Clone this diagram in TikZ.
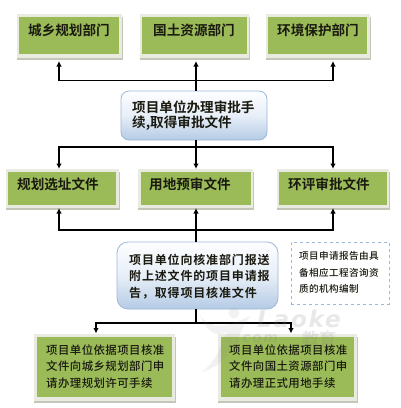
\documentclass[tikz,border=0pt]{standalone}
\usepackage{fontspec}
\setmainfont{Noto Sans CJK SC}
\newfontfamily\cjkb[LetterSpace=0]{Noto Sans CJK SC Bold}
\newfontfamily\cjkbs[LetterSpace=7]{Noto Sans CJK SC Bold}
\newfontfamily\cjkm[LetterSpace=4]{Noto Sans CJK SC Medium}
\newfontfamily\wmark{DejaVu Sans Bold Oblique}
\usetikzlibrary{arrows.meta,shadows}
\definecolor{boxgreen}{HTML}{9BBB59}
\definecolor{boxrim}{HTML}{E9EBE0}
\definecolor{rimshade}{HTML}{C4C6B8}
\definecolor{bluetop}{HTML}{FDFEFF}
\definecolor{bluebot}{HTML}{B5CBE6}
\definecolor{blueline}{HTML}{9DB8D8}
\definecolor{txt}{HTML}{1A1A10}
\tikzset{
  x=1pt,y=-1pt,
  rim/.style={fill=boxrim,draw=none},
  rimb/.style={fill=rimshade,draw=none},
  green/.style={fill=boxgreen,draw=none},
  conn/.style={draw=black,line width=1.1pt},
  tip/.style={conn,-{Latex[length=5.5pt,width=5.5pt]}},
  lab/.style={anchor=west,inner sep=0,text=txt},
  pillbox/.style={rounded corners=8pt,draw=blueline,line width=0.8pt,top color=bluetop,bottom color=bluebot,middle color=bluetop!70!bluebot},
}
\newcommand{\gbox}[9]{%
  \path[rimb] (#2,#3+3) rectangle (#4,#5);
  \path[rim] (#2,#3) rectangle (#4-1,#5-2);
  \path[green] (#6,#7) rectangle (#8,#9);
  \coordinate (#1) at (#6/2+#8/2,#7/2+#9/2);
}
\begin{document}
\begin{tikzpicture}
\useasboundingbox (0,0) rectangle (400,408);
\fill[white] (0,0) rectangle (400,408);
% top row
\gbox{a1}{17}{14}{123}{60}{19}{17}{119}{54}
\gbox{a2}{140}{14}{250}{60}{142}{17}{247}{54}
\gbox{a3}{266}{14}{371}{60}{268}{17}{367}{54}
% second row
\gbox{b1}{6}{169}{120}{210}{8}{172}{116}{205}
\gbox{b2}{138}{169}{254}{210}{141}{172}{251}{205}
\gbox{b3}{277}{169}{390}{210}{279}{172}{387}{205}
% bottom row
\gbox{d1}{34}{334}{176}{403}{37}{337}{172}{397}
\gbox{d2}{218}{334}{358}{403}{221}{337}{354}{397}
% centre boxes
\node[pillbox,minimum width=146pt,minimum height=49pt,inner sep=0] (c1) at (194,115.5) {};
\node[pillbox,minimum width=161pt,minimum height=67pt,inner sep=0,rounded corners=11pt] (c2) at (197.5,275.5) {};
% dashed note
\node[draw=blueline,dashed,line width=1pt,minimum width=98pt,minimum height=62pt,inner sep=0] (note) at (340,273) {};
% connectors
\coordinate (h1) at (196,80.5);
\coordinate (h2) at (196,147);
\coordinate (h3) at (196,230);
\coordinate (h4) at (196,323);
\draw[conn] (196,91) -- (h1);
\draw[tip] (h1) -- (59,80.5) -- (59,61);
\draw[tip] (h1) -- (196,61);
\draw[tip] (h1) -- (333,80.5) -- (333,61);
\draw[conn] (196,140) -- (h2);
\draw[tip] (h2) -- (59,147) -- (59,169);
\draw[tip] (h2) -- (196,169);
\draw[tip] (h2) -- (333,147) -- (333,169);
\draw[conn] (196,242) -- (h3);
\draw[tip] (h3) -- (59,230) -- (59,208);
\draw[tip] (h3) -- (196,208);
\draw[tip] (h3) -- (333,230) -- (333,208);
\draw[conn] (196,309) -- (h4);
\draw[tip] (h4) -- (96,323) -- (96,333.5);
\draw[tip] (h4) -- (291,323) -- (291,333.5);
% labels
\tikzset{every node/.append style={lab}}
\node[font=\cjkb\fontsize{13.6}{14}\selectfont] (t1) at (28,30) {城乡规划部门};
\node[font=\cjkb\fontsize{13.6}{14}\selectfont] (t2) at (153,30) {国土资源部门};
\node[font=\cjkb\fontsize{13.6}{14}\selectfont] (t3) at (277,30) {环境保护部门};
\node[font=\cjkb\fontsize{13.6}{14}\selectfont] (t4) at (17,184.5) {规划选址文件};
\node[font=\cjkb\fontsize{13.6}{14}\selectfont] (t5) at (149,184.5) {用地预审文件};
\node[font=\cjkb\fontsize{13.6}{14}\selectfont] (t6) at (288,184.5) {环评审批文件};
\node[font=\cjkb\fontsize{13.6}{14}\selectfont] (t7) at (132,107) {项目单位办理审批手};
\node[font=\cjkb\fontsize{13.6}{14}\selectfont] (t8) at (132,123) {续,取得审批文件};
\node[font=\cjkbs\fontsize{12}{13}\selectfont] (t9) at (129,259.5) {项目单位向核准部门报送};
\node[font=\cjkbs\fontsize{12}{13}\selectfont] (t10) at (129,276) {附上述文件的项目申请报};
\node[font=\cjkbs\fontsize{12}{13}\selectfont] (t11) at (129,293) {告，取得项目核准文件};
\node[font=\cjkm\fontsize{11.4}{12}\selectfont] (t12) at (46,350) {项目单位依据项目核准};
\node[font=\cjkm\fontsize{11.4}{12}\selectfont] (t13) at (46,366.5) {文件向城乡规划部门申};
\node[font=\cjkm\fontsize{11.4}{12}\selectfont] (t14) at (46,383) {请办理规划许可手续};
\node[font=\cjkm\fontsize{11.4}{12}\selectfont] (t15) at (229,350) {项目单位依据项目核准};
\node[font=\cjkm\fontsize{11.4}{12}\selectfont] (t16) at (229,366.5) {文件向国土资源部门申};
\node[font=\cjkm\fontsize{11.4}{12}\selectfont] (t17) at (229,383) {请办理正式用地手续};
\node[font=\cjkm\fontsize{9.6}{11}\selectfont] (t18) at (299,256) {项目申请报告由具};
\node[font=\cjkm\fontsize{9.6}{11}\selectfont] (t19) at (299,273) {备相应工程咨询资};
\node[font=\cjkm\fontsize{9.6}{11}\selectfont] (t20) at (299,289) {质的机构编制};
% watermark
\begin{scope}[opacity=0.18]
\node[text=gray,font=\wmark\fontsize{23}{23}\selectfont] (w1) at (257,319) {\addfontfeature{LetterSpace=8}Laoke};
\node[text=gray,font=\wmark\fontsize{14}{14}\selectfont] (w2) at (235,339) {\addfontfeature{LetterSpace=12}.com};
\node[text=gray,font=\cjkb\fontsize{17}{17}\selectfont] (w3) at (302,339) {教育};
\end{scope}
\begin{scope}[opacity=0.1]
\fill[gray] (234,313) circle (5.5);
\fill[gray] (200,316) .. controls (212,330) and (225,328) .. (250,316) .. controls (240,332) and (236,340) .. (238,350) .. controls (232,343) and (226,338) .. (226,332) .. controls (215,338) and (206,330) .. (200,316);
\fill[gray] (224,334) .. controls (220,352) and (214,362) .. (202,372) .. controls (222,366) and (232,352) .. (232,342) -- cycle;
\end{scope}
\end{tikzpicture}
\end{document}
